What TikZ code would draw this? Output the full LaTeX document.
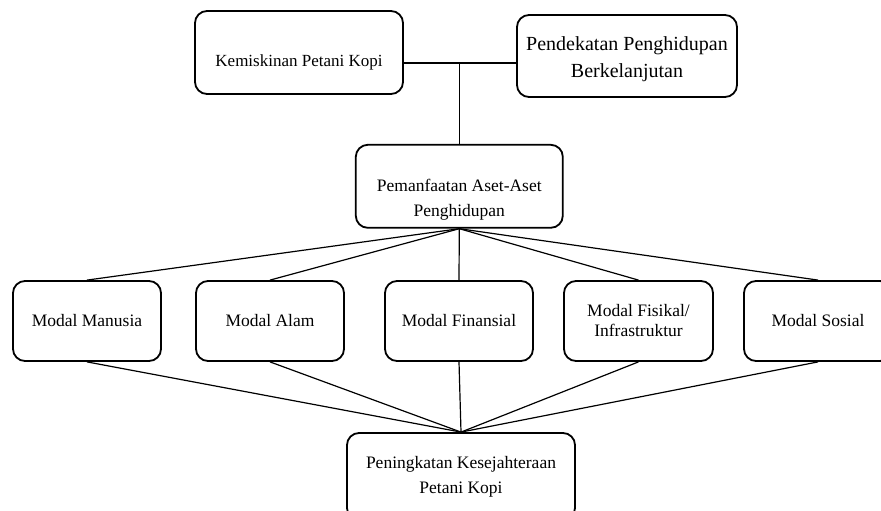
\documentclass[tikz,border=0pt]{standalone}
\usepackage{fontspec}
\setmainfont{Liberation Serif}
\tikzset{
    boxnode/.style={draw, line width=1.8pt, rounded corners=12pt, inner sep=0pt, align=center, font=\fontsize{17.5}{24.5}\selectfont},
    modalnode/.style={boxnode, minimum width=148pt, minimum height=80pt},
    link/.style={line width=1.2pt}
}

\begin{document}
\begin{tikzpicture}[x=1pt, y=-1pt]
    \useasboundingbox (0,0) rectangle (881,511);
    % top row
    \node[boxnode, minimum width=208pt, minimum height=83pt, text height=31pt, font=\fontsize{17}{24}\selectfont] (kemis) at (299,52.5) {Kemiskinan Petani Kopi};
    \node[boxnode, minimum width=220pt, minimum height=82pt, text height=47pt, font=\fontsize{20}{27}\selectfont] (pende) at (627,56) {Pendekatan Penghidupan\\Berkelanjutan};
    \node[boxnode, minimum width=207pt, minimum height=83pt, text height=64pt] (aset) at (459.3,186.3) {Pemanfaatan Aset-Aset\\Penghidupan};
    \coordinate (hline) at (0,63);
    \coordinate (junc) at (aset.north |- hline);
    % modal row
    \node[modalnode] (manusia) at (87,321) {Modal Manusia};
    \node[modalnode] (alam) at (270,321) {Modal Alam};
    \node[modalnode] (finansial) at (459,321) {Modal Finansial};
    \node[modalnode, minimum width=149pt, font=\fontsize{17.5}{20}\selectfont] (fisikal) at (638.5,321) {Modal Fisikal/\\Infrastruktur};
    \node[modalnode] (sosial) at (818,321) {Modal Sosial};
    % result
    \node[boxnode, minimum width=228pt, minimum height=87pt, font=\fontsize{17.5}{25}\selectfont] (sejahtera) at (461,476.5) {Peningkatan Kesejahteraan\\Petani Kopi};

    \draw[link] (kemis.east |- hline) -- (pende.west |- hline);
    \draw[link] (junc) -- (aset.north);
    \foreach \m in {manusia, alam, finansial, fisikal, sosial} {
        \draw[link] (aset.south) -- (\m.north);
        \draw[link] (\m.south) -- (sejahtera.north);
    }
\end{tikzpicture}
\end{document}
